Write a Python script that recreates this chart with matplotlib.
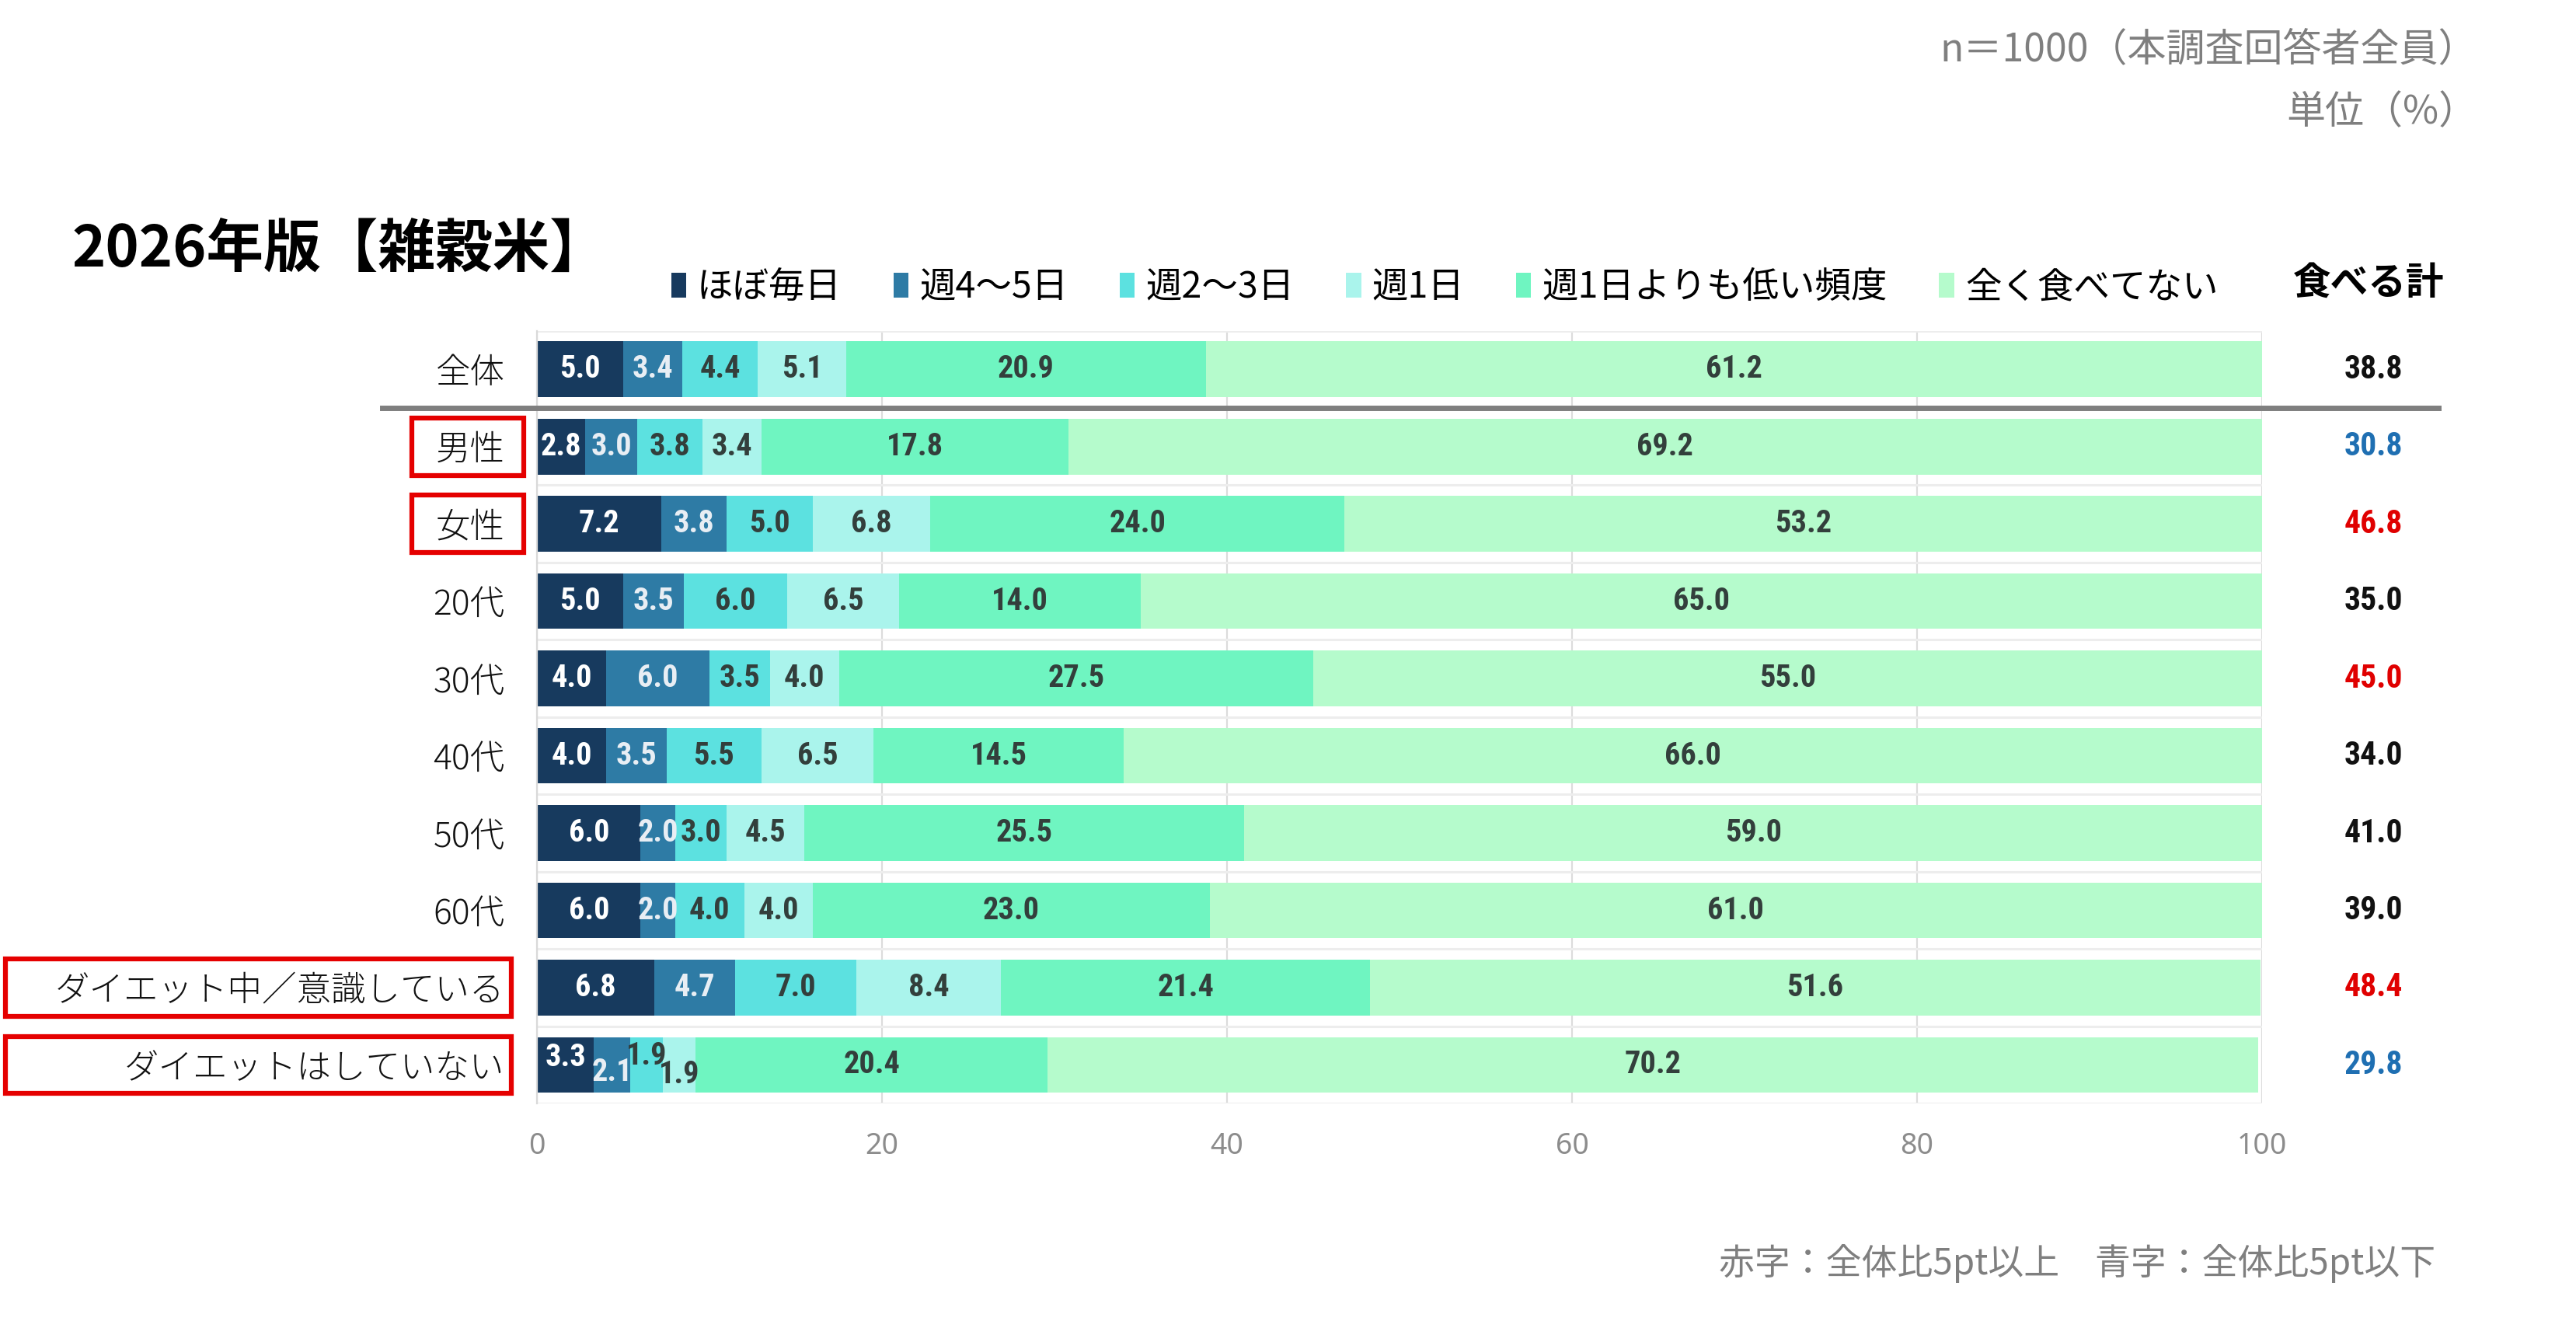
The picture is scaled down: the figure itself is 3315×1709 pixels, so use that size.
import numpy as np
import matplotlib
matplotlib.use("Agg")
import matplotlib.pyplot as plt
from matplotlib import font_manager as fm
from matplotlib.transforms import blended_transform_factory
from matplotlib.patches import Rectangle
from matplotlib.lines import Line2D

# ---------------- data ----------------
categories = ["全体", "男性", "女性", "20代", "30代", "40代", "50代", "60代",
              "ダイエット中／意識している", "ダイエットはしていない"]
series_names = ["ほぼ毎日", "週4〜5日", "週2〜3日", "週1日", "週1日よりも低い頻度", "全く食べてない"]
s_daily   = [5.0, 2.8, 7.2, 5.0, 4.0, 4.0, 6.0, 6.0, 6.8, 3.3]
s_4to5    = [3.4, 3.0, 3.8, 3.5, 6.0, 3.5, 2.0, 2.0, 4.7, 2.1]
s_2to3    = [4.4, 3.8, 5.0, 6.0, 3.5, 5.5, 3.0, 4.0, 7.0, 1.9]
s_weekly  = [5.1, 3.4, 6.8, 6.5, 4.0, 6.5, 4.5, 4.0, 8.4, 1.9]
s_less    = [20.9, 17.8, 24.0, 14.0, 27.5, 14.5, 25.5, 23.0, 21.4, 20.4]
s_never   = [61.2, 69.2, 53.2, 65.0, 55.0, 66.0, 59.0, 61.0, 51.6, 70.2]
eat_total = [38.8, 30.8, 46.8, 35.0, 45.0, 34.0, 41.0, 39.0, 48.4, 29.8]
total_flag = ["", "low", "high", "", "high", "", "", "", "high", "low"]
highlight_rows = [1, 2, 8, 9]
x_ticks = [0, 20, 40, 60, 80, 100]

series = [s_daily, s_4to5, s_2to3, s_weekly, s_less, s_never]

# ---------------- style ----------------
colors = ["#173a5e", "#2e7ba5", "#5ce1e0", "#aaf4ec", "#6ff5c1", "#b5fbcc"]
label_colors = ["#ffffff", "#e8eef4", "#333f3c", "#333f3c", "#333f3c", "#333f3c"]
flag_colors = {"": "#111111", "high": "#e00000", "low": "#1f6fb2"}
nudge = {(9, 0): -0.10, (9, 1): 0.10, (9, 2): -0.12, (9, 3): 0.13}

# find a condensed / narrow bold font for numbers
cands = []
for f in fm.fontManager.ttflist:
    nm = f.name
    st = str(f.stretch)
    if ("Narrow" in nm or "Condensed" in nm or "Cond" in nm
            or st in ("condensed", "semi-condensed", "extra-condensed", "ultra-condensed")):
        cands.append(f)

def pick():
    bold = [f for f in cands if (isinstance(f.weight, int) and f.weight >= 600)
            or str(f.weight) in ("bold", "heavy", "black", "semibold", "demibold")]
    pref = ["Liberation Sans Narrow", "Roboto Condensed", "Archivo Narrow", "DejaVu Sans",
            "Open Sans Condensed", "Open Sans", "Noto Sans", "Roboto"]
    for p in pref:
        for f in bold:
            if f.name == p and ("Italic" not in f.fname):
                return f.fname
    return bold[0].fname if bold else None

num_path = pick()

def numprops(size):
    if num_path:
        return dict(fontproperties=fm.FontProperties(fname=num_path, size=size))
    return dict(family=["Liberation Sans", "DejaVu Sans"], fontweight="bold", fontsize=size - 3)

JP = "Noto Sans CJK JP"
plt.rcParams["font.family"] = [JP, "DejaVu Sans"]

W, H = 3315, 1709
fig = plt.figure(figsize=(W / 100, H / 100), dpi=100)
ax = fig.add_axes([0.2085, 0.169, 0.6696, 0.582])

y = np.arange(len(categories))
left = np.zeros(len(categories))
containers = []
for i, (vals, name) in enumerate(zip(series, series_names)):
    vals = np.array(vals)
    bc = ax.barh(y, vals, left=left, height=0.72, color=colors[i], label=name,
                 edgecolor="none", zorder=2)
    containers.append(bc)
    for r, (v, l0) in enumerate(zip(vals, left)):
        ax.text(l0 + v / 2, r + nudge.get((r, i), 0.0), f"{v:.1f}",
                ha="center", va="center", color=label_colors[i], zorder=3, **numprops(29))
    left = left + vals

ax.set_xlim(0, 100)
ax.set_ylim(len(categories) - 0.5, -0.5)
ax.set_yticks(y)
ax.set_yticklabels(categories, fontsize=32, color="#111111", fontweight=300)
ax.set_xticks(x_ticks)
ax.set_xticklabels([str(t) for t in x_ticks], fontsize=27, color="#8c8c8c",
                   family=["Noto Sans", "DejaVu Sans"])
ax.tick_params(axis="y", length=0, pad=30)
ax.tick_params(axis="x", length=0, pad=26)
ax.set_yticks(np.arange(-0.5, len(categories), 1), minor=True)
ax.tick_params(axis="y", which="minor", length=0)
ax.grid(axis="y", which="minor", color="#ededed", lw=2.2, zorder=0)
ax.grid(axis="x", which="major", color="#dcdcdc", lw=1.6, zorder=0)
ax.set_axisbelow(True)
for s in ["top", "right", "bottom"]:
    ax.spines[s].set_visible(False)
ax.spines["left"].set_color("#d9d9d9")
ax.spines["left"].set_linewidth(1.6)

# totals column
bt = blended_transform_factory(fig.transFigure, ax.transData)
for r, (v, f) in enumerate(zip(eat_total, total_flag)):
    ax.text(0.9213, r, f"{v:.1f}", transform=bt, ha="center", va="center",
            color=flag_colors[f], clip_on=False, **numprops(30))

# separator below 全体
ax.add_line(Line2D([0.1484, 0.9466], [0.5, 0.5], transform=bt, color="#7f7f7f",
                   lw=5, clip_on=False, zorder=4))

# red boxes around highlighted labels
box_x = {1: (0.160, 0.2033), 2: (0.160, 0.2033), 8: (0.002, 0.1985), 9: (0.002, 0.1985)}
for r in highlight_rows:
    x0, x1 = box_x[r]
    ax.add_patch(Rectangle((x0, r - 0.37), x1 - x0, 0.74, transform=bt, fill=False,
                           edgecolor="#e50000", lw=4.5, clip_on=False, zorder=5))

# legend
fig.legend(handles=containers, labels=series_names, loc="center left",
           bbox_to_anchor=(0.2605, 0.7835), ncol=6, frameon=False, fontsize=33.5,
           handlelength=0.42, handleheight=0.7, handletextpad=0.3,
           columnspacing=1.43, borderpad=0, borderaxespad=0)

# header / notes
fig.text(0.028, 0.8115, "2026年版【雑穀米】", fontsize=53, fontweight="bold",
         ha="left", va="center", color="#000000")
fig.text(0.9195, 0.787, "食べる計", fontsize=35, fontweight="bold",
         ha="center", va="center", color="#000000")
fig.text(0.9618, 0.9625, "n＝1000（本調査回答者全員）", fontsize=36,
         ha="right", va="center", color="#7f7f7f")
fig.text(0.9618, 0.915, "単位（%）", fontsize=36,
         ha="right", va="center", color="#7f7f7f")
fig.text(0.9453, 0.0487, "赤字：全体比5pt以上　青字：全体比5pt以下", fontsize=33,
         ha="right", va="center", color="#7f7f7f")

fig.savefig("out.png", dpi=100, facecolor="white")
